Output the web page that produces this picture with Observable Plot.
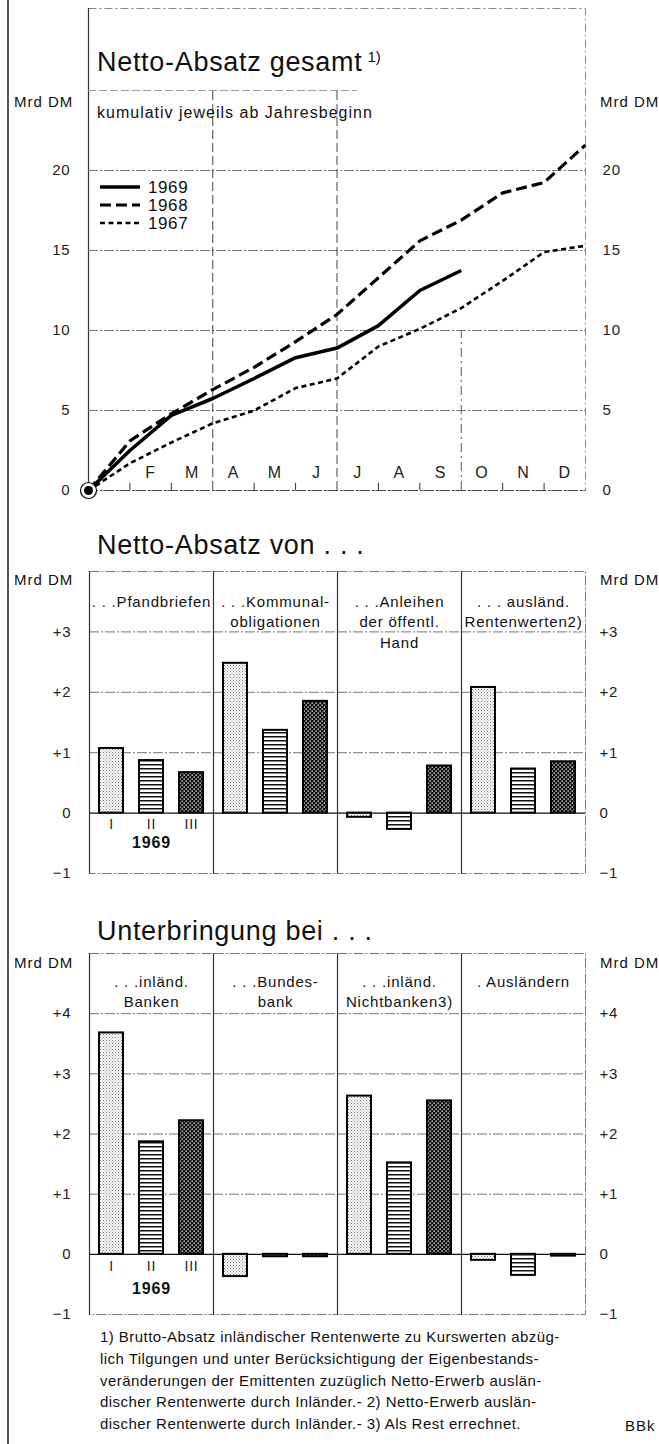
<!DOCTYPE html>
<html><head><meta charset="utf-8">
<script src="https://cdn.jsdelivr.net/npm/d3@7"></script>
<script src="https://cdn.jsdelivr.net/npm/@observablehq/plot@0.6"></script>
<style>
body{margin:0;background:#fff;font-family:"Liberation Sans",Arial,sans-serif;color:#111}
#root{position:relative;width:659px;height:1444px;overflow:hidden;background:#fff}
.abs{position:absolute;white-space:nowrap;line-height:1}
.chart{position:absolute;left:0}
#pageline{position:absolute;left:7px;top:0;width:1.5px;height:1444px;background:#555}
</style></head><body><div id="root"></div>
<script>
// ---------- DATA ----------
const monthLabels = ["", "F", "M", "A", "M", "J", "J", "A", "S", "O", "N", "D"];
const yearNames = ["1969", "1968", "1967"];
// cumulative net sales at month ends (Mrd DM), starting with 0 at beginning of year
const cum1969 = [0, 2.5, 4.7, 5.75, 7.0, 8.3, 8.9, 10.3, 12.5, 13.75];
const cum1968 = [0, 3.1, 4.8, 6.3, 7.7, 9.3, 11.0, 13.3, 15.6, 16.9, 18.6, 19.25, 21.6];
const cum1967 = [0, 1.7, 3.0, 4.2, 5.0, 6.4, 7.0, 9.0, 10.1, 11.4, 13.1, 14.9, 15.3];
const topTicks = [0, 5, 10, 15, 20];

const quarters = ["I", "II", "III"];
// Netto-Absatz von ...
const cats2 = ["Pfandbriefen", "Kommunalobligationen", "Anleihen der öffentl. Hand", "ausländ. Rentenwerten"];
const headers2 = [". . .Pfandbriefen", ". . .Kommunal-\nobligationen", ". . .Anleihen\nder öffentl.\nHand", ". . . ausländ.\nRentenwerten2)"];
const pfandbriefen = [1.07, 0.87, 0.67];
const kommunal = [2.48, 1.37, 1.85];
const anleihen = [-0.07, -0.27, 0.78];
const auslRenten = [2.08, 0.73, 0.85];
const ticks2 = [-1, 0, 1, 2, 3];

// Unterbringung bei ...
const cats3 = ["inländ. Banken", "Bundesbank", "inländ. Nichtbanken", "Ausländern"];
const headers3 = [". . .inländ.\nBanken", ". . .Bundes-\nbank", ". . .inländ.\nNichtbanken3)", ". Ausländern"];
const banken = [3.68, 1.87, 2.22];
const bundesbank = [-0.37, -0.04, -0.04];
const nichtbanken = [2.63, 1.52, 2.55];
const auslaender = [-0.1, -0.35, -0.03];
const ticks3 = [-1, 0, 1, 2, 3, 4];

// ---------- HELPERS ----------
const FONT = "Liberation Sans, Arial, sans-serif";
const root = document.getElementById("root");
root.insertAdjacentHTML("beforeend", `<div id="pageline"></div>`);

// pattern defs (shared)
root.insertAdjacentHTML("beforeend", `
<svg width="0" height="0" style="position:absolute">
 <defs>
  <pattern id="pat0" width="3" height="3" patternUnits="userSpaceOnUse">
    <rect width="3" height="3" fill="#fff"/>
    <rect x="0" y="0" width="1" height="1" fill="#777"/>
    <rect x="1.5" y="1.5" width="1" height="1" fill="#888"/>
  </pattern>
  <pattern id="pat1" width="4" height="4" patternUnits="userSpaceOnUse">
    <rect width="4" height="4" fill="#fff"/>
    <rect x="0" y="0" width="4" height="1.5" fill="#111"/>
  </pattern>
  <pattern id="pat2" width="4" height="4" patternUnits="userSpaceOnUse">
    <rect width="4" height="4" fill="#111"/>
    <rect x="0.5" y="0.5" width="1.3" height="1.3" fill="#fff"/>
    <rect x="2.5" y="2.5" width="1.3" height="1.3" fill="#fff"/>
  </pattern>
 </defs>
</svg>`);

function label(text, x, yc, size, extra = "") {
  const d = document.createElement("div");
  d.className = "abs";
  d.style.left = x + "px";
  d.style.top = (yc - size / 2) + "px";
  d.style.fontSize = size + "px";
  d.style.cssText += extra;
  d.innerHTML = text;
  root.appendChild(d);
  return d;
}
function place(svg, top) {
  svg.classList.add("chart");
  svg.style.top = top + "px";
  root.appendChild(svg);
}
const signFmt = d => d > 0 ? "+" + d : d < 0 ? "−" + Math.abs(d) : "0";
const TITLE = "letter-spacing:0.7px";
const SMALL = "letter-spacing:1px";

// ---------- CHART 1 ----------
const lineData = [
  ...cum1969.map((v, m) => ({year: "1969", m, v})),
  ...cum1968.map((v, m) => ({year: "1968", m, v})),
  ...cum1967.map((v, m) => ({year: "1967", m, v}))
];
const lineStyle = {
  "1969": {w: 3.6, dash: null},
  "1968": {w: 3.2, dash: "11,5"},
  "1967": {w: 2.6, dash: "5,3.5"}
};
const gridStyle = {stroke: "#777", strokeWidth: 1, strokeDasharray: "10,2,2,2"};
const svgStyle = {fontFamily: FONT, fontSize: "15px", color: "#222", background: "transparent", letterSpacing: "0.8px"};

const chart1 = Plot.plot({
  width: 659, height: 500,
  marginLeft: 88, marginRight: 74, marginTop: 8, marginBottom: 10,
  style: svgStyle,
  x: {domain: [0, 12], axis: null},
  y: {domain: [0, 30.125], axis: null},
  marks: [
    Plot.frame({stroke: "#888", strokeDasharray: "8,3,2,3"}),
    Plot.ruleX([0], {stroke: "#333", strokeWidth: 1.2}),
    Plot.ruleY(topTicks.slice(1), gridStyle),
    Plot.ruleY([25], {stroke: "#999", strokeDasharray: "8,3", x1: 0, x2: 6.5}),
    Plot.ruleX([3, 6], {y1: 0, y2: 25, stroke: "#444", strokeWidth: 1, strokeDasharray: "9,4"}),
    Plot.ruleX([9], {y1: 0, y2: 10, stroke: "#555", strokeWidth: 1, strokeDasharray: "9,4,2,4"}),
    Plot.ruleX([1, 2, 4, 5, 7, 8, 10, 11], {y1: 0, y2: 0.45, stroke: "#333"}),
    Plot.ruleY([0], {stroke: "#444", strokeDasharray: "10,2,2,2"}),
    Plot.text(monthLabels, {x: (d, i) => i + 0.5, y: 0, dy: -18, text: d => d, fontSize: 16, fill: "#222"}),
    ...yearNames.map(yr => Plot.line(lineData.filter(d => d.year === yr), {
      x: "m", y: "v", stroke: "#000", strokeWidth: lineStyle[yr].w,
      strokeDasharray: lineStyle[yr].dash, strokeLinejoin: "round", strokeLinecap: "butt"
    })),
    Plot.dot([{m: 0, v: 0}], {x: "m", y: "v", r: 8, stroke: "#000", strokeWidth: 1.2, fill: "white"}),
    Plot.dot([{m: 0, v: 0}], {x: "m", y: "v", r: 4.5, fill: "#000"}),
    Plot.axisY(topTicks, {anchor: "left", tickSize: 0, tickPadding: 18, label: null}),
    Plot.axisY(topTicks, {anchor: "right", tickSize: 0, tickPadding: 17, label: null})
  ]
});
place(chart1, 0);

// titles & labels chart 1
label(`Netto-Absatz gesamt<span style="font-size:15px;position:relative;top:-9px;margin-left:5px;letter-spacing:0">1)</span>`, 97, 62, 27, TITLE);
label("kumulativ jeweils ab Jahresbeginn", 97, 113, 16, SMALL);
label("Mrd DM", 14, 101, 15, SMALL);
label("Mrd DM", 600, 101, 15, SMALL);

// legend
{
  const lg = document.createElementNS("http://www.w3.org/2000/svg", "svg");
  lg.setAttribute("width", 120); lg.setAttribute("height", 60);
  lg.style.cssText = "position:absolute;left:98px;top:178px";
  const ys = [9, 27, 45];
  yearNames.forEach((yr, i) => {
    const s = lineStyle[yr];
    lg.insertAdjacentHTML("beforeend",
      `<line x1="2" x2="42" y1="${ys[i]}" y2="${ys[i]}" stroke="#000" stroke-width="${s.w}" ${s.dash ? `stroke-dasharray="${s.dash}"` : ""}/>` +
      `<text x="50" y="${ys[i] + 6}" font-family="${FONT}" font-size="17" letter-spacing="0.6" fill="#111">${yr}</text>`);
  });
  root.appendChild(lg);
}

// ---------- BAR CHART helper ----------
function barChart({cats, headers, values, ticks, domain, height, marginTop, headerDy, qDy, yearDy}) {
  const bars = cats.flatMap((c, ci) => values[ci].map((v, qi) => ({cat: c, q: quarters[qi], qi, v})));
  const hdr = cats.map((c, i) => ({cat: c, text: headers[i]}));
  return Plot.plot({
    width: 659, height,
    marginLeft: 88, marginRight: 74, marginTop, marginBottom: 10,
    style: svgStyle,
    fx: {domain: cats, padding: 0, axis: null},
    x: {domain: quarters, paddingInner: 0.4, paddingOuter: 0.22, axis: null},
    y: {domain, axis: null},
    marks: [
      Plot.ruleY(ticks.filter(t => t > 0), {...gridStyle}),
      Plot.frame({stroke: "#777", strokeDasharray: "10,2,2,2"}),
      Plot.frame({anchor: "left", stroke: "#333", strokeWidth: 1.2}),
      Plot.text(hdr, {fx: "cat", text: "text", frameAnchor: "top", lineAnchor: "top", dy: headerDy,
        lineHeight: 1.36, fontSize: 15, fill: "#111", stroke: "white", strokeWidth: 3}),
      Plot.barY(bars, {fx: "cat", x: "q", y: "v", fill: d => `url(#pat${d.qi})`, stroke: "#000", strokeWidth: 2}),
      Plot.ruleY([0], {stroke: "#111", strokeWidth: 1.3}),
      Plot.text(quarters, {fx: () => cats[0], x: d => d, text: d => d, frameAnchor: "bottom", dy: qDy, fontSize: 14, fill: "#222"}),
      Plot.text(["1969"], {fx: () => cats[0], text: d => d, frameAnchor: "bottom", dy: yearDy, fontSize: 16, fontWeight: "bold", fill: "#111"}),
      Plot.axisY(ticks, {anchor: "left", tickSize: 0, tickPadding: 18, tickFormat: signFmt, label: null}),
      Plot.axisY(ticks, {anchor: "right", tickSize: 0, tickPadding: 14, tickFormat: signFmt, label: null})
    ]
  });
}

// ---------- CHART 2 ----------
const chart2 = barChart({
  cats: cats2, headers: headers2, values: [pfandbriefen, kommunal, anleihen, auslRenten],
  ticks: ticks2, domain: [-1, 4], height: 383, marginTop: 71,
  headerDy: 21, qDy: -45, yearDy: -26
});
place(chart2, 500);
label("Netto-Absatz von .&nbsp;.&nbsp;.", 97, 545, 27, TITLE);
label("Mrd DM", 14, 579, 15, SMALL);
label("Mrd DM", 600, 579, 15, SMALL);

// ---------- CHART 3 ----------
const chart3 = barChart({
  cats: cats3, headers: headers3, values: [banken, bundesbank, nichtbanken, auslaender],
  ticks: ticks3, domain: [-1, 5], height: 434, marginTop: 63,
  headerDy: 19, qDy: -44, yearDy: -21
});
place(chart3, 890);
label("Unterbringung bei .&nbsp;.&nbsp;.", 97, 931, 27, TITLE);
label("Mrd DM", 14, 962, 15, SMALL);
label("Mrd DM", 600, 962, 15, SMALL);

// ---------- FOOTNOTE ----------
const foot = document.createElement("div");
foot.className = "abs";
foot.style.cssText = "left:100px;top:1326px;font-size:15px;line-height:21.8px;color:#111;letter-spacing:0.45px";
foot.innerHTML = "1) Brutto-Absatz inländischer Rentenwerte zu Kurswerten abzüg-<br>" +
  "lich Tilgungen und unter Berücksichtigung der Eigenbestands-<br>" +
  "veränderungen der Emittenten zuzüglich Netto-Erwerb auslän-<br>" +
  "discher Rentenwerte durch Inländer.- 2) Netto-Erwerb auslän-<br>" +
  "discher Rentenwerte durch Inländer.- 3) Als Rest errechnet.";
root.appendChild(foot);
label("BBk", 625, 1425, 15, SMALL);
</script></body></html>
